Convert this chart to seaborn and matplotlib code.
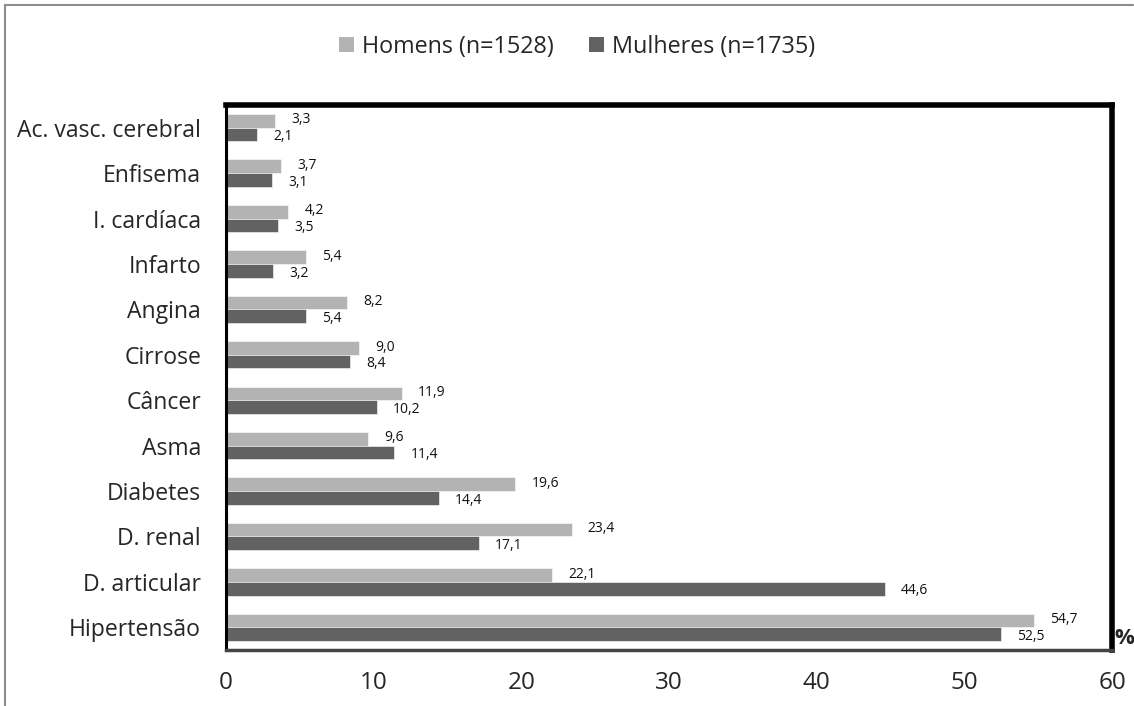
import matplotlib
matplotlib.use("Agg")
import matplotlib.pyplot as plt
from matplotlib.lines import Line2D
from matplotlib.patches import Patch
import pandas as pd
import seaborn as sns

# Prevalence (%) of chronic conditions by sex
doencas = ["Ac. vasc. cerebral", "Enfisema", "I. cardíaca", "Infarto", "Angina",
           "Cirrose", "Câncer", "Asma", "Diabetes", "D. renal", "D. articular",
           "Hipertensão"]
homens = [3.3, 3.7, 4.2, 5.4, 8.2, 9.0, 11.9, 9.6, 19.6, 23.4, 22.1, 54.7]
mulheres = [2.1, 3.1, 3.5, 3.2, 5.4, 8.4, 10.2, 11.4, 14.4, 17.1, 44.6, 52.5]
grupos = ["Homens (n=1528)", "Mulheres (n=1735)"]
cores = ["#B3B3B3", "#626262"]
xticks = [0, 10, 20, 30, 40, 50, 60]

df = pd.DataFrame({
    "doenca": doencas * 2,
    "valor": homens + mulheres,
    "grupo": [grupos[0]] * len(doencas) + [grupos[1]] * len(doencas),
})

sns.set_style("white")
plt.rcParams["font.family"] = ["Open Sans", "DejaVu Sans"]

fig = plt.figure(figsize=(11.34, 7.06), dpi=100)
ax = fig.add_axes([0.1993, 0.0793, 0.7813, 0.772])

sns.barplot(data=df, x="valor", y="doenca", hue="grupo", order=doencas,
            hue_order=grupos, palette=cores, orient="h", width=0.6,
            edgecolor="white", linewidth=0.4, legend=False, ax=ax)

ax.set_xlim(0, 60)
ax.set_ylim(len(doencas) - 0.5, -0.5)
ax.set_xticks(xticks)
ax.set_xticklabels([str(t) for t in xticks], fontsize=17.5)
ax.set_xlabel("")
ax.set_ylabel("")
ax.tick_params(axis="y", which="major", length=0, labelsize=16.6, pad=18)
ax.set_yticks([i - 0.5 for i in range(len(doencas) + 1)], minor=True)
ax.tick_params(axis="y", which="minor", length=6, width=1.2, color="#888888",
               direction="out")
ax.tick_params(axis="x", which="major", length=6, width=1.2, color="#888888",
               direction="out", pad=9)

# Frame of the plot area
ax.spines["top"].set_linewidth(4)
ax.spines["right"].set_linewidth(4)
ax.spines["top"].set_color("black")
ax.spines["right"].set_color("black")
ax.spines["left"].set_linewidth(2.2)
ax.spines["left"].set_color("black")
ax.spines["bottom"].set_linewidth(2.5)
ax.spines["bottom"].set_color("#444444")

# Value labels
for i, (h, m) in enumerate(zip(homens, mulheres)):
    ax.text(h + 1.1, i - 0.17, f"{h:.1f}".replace(".", ","), fontsize=10,
            va="center", ha="left", color="#111111")
    ax.text(m + 1.1, i + 0.2, f"{m:.1f}".replace(".", ","), fontsize=10,
            va="center", ha="left", color="#111111")

# Unit marker next to the axis end
fig.text(0.983, 0.095, "%", fontsize=16, fontweight="bold", ha="left",
         va="center")

# Legend on top
handles = [Patch(facecolor=c, edgecolor="none") for c in cores]
fig.legend(handles, grupos, loc="center", bbox_to_anchor=(0.509, 0.934),
           ncol=2, frameon=False, fontsize=16.8, handlelength=0.65,
           handleheight=0.65, handletextpad=0.35, columnspacing=1.5)

# Outer chart border (top and left edges)
fig.add_artist(Line2D([0.0044, 0.999], [0.9929, 0.9929], color="#8c8c8c",
                      lw=1.5, transform=fig.transFigure))
fig.add_artist(Line2D([0.0044, 0.0044], [0.0, 0.9929], color="#8c8c8c",
                      lw=1.5, transform=fig.transFigure))

fig.savefig("out.png", dpi=100, facecolor="white")
